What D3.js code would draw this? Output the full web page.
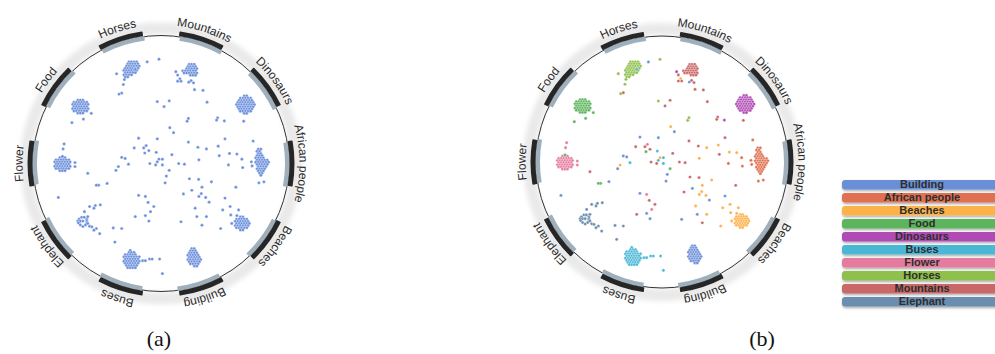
<!DOCTYPE html>
<html>
<head>
<meta charset="utf-8">
<script src="https://cdn.jsdelivr.net/npm/d3@7"></script>
<style>
  html, body { margin: 0; padding: 0; background: #fff; }
  svg { display: block; }
</style>
</head>
<body>
<svg id="chart" width="995" height="354"></svg>
<script>
// ---- categories, legend order and colours ----
const categories = ["Building", "African people", "Beaches", "Food", "Dinosaurs",
                    "Buses", "Flower", "Horses", "Mountains", "Elephant"];
const categoryColors = ["#6b8fd9", "#e07050", "#fdb14a", "#5cb55c", "#b04bb5",
                        "#4bb7d6", "#e57c9e", "#8ec04b", "#c96767", "#6a8db0"];
// order of the groups round the ring, clockwise from the top
const ringOrder = ["Mountains", "Dinosaurs", "African people", "Beaches", "Building",
                   "Buses", "Elephant", "Flower", "Food", "Horses"];
const codeToCategory = { Bd: "Building", Af: "African people", Be: "Beaches", Fo: "Food",
  Di: "Dinosaurs", Bu: "Buses", Fl: "Flower", Ho: "Horses", Mo: "Mountains", El: "Elephant" };

// ---- embedded image features (2-D projection, circle of radius 100) ----
// dense groups, one row of points per entry: [y, [x, x, ...]]
const horsesCluster = [
  [-79.5, [-25, -23, -21, -19]], [-77.8, [-26, -24, -22, -20, -18]],
  [-76.1, [-27, -25, -23, -21, -19, -17]], [-74.4, [-28, -26, -24, -22, -20, -18]],
  [-72.7, [-29, -27, -25, -23, -21, -19]], [-71.0, [-28, -26, -24, -22, -20]],
  [-69.3, [-29, -27, -25, -23]], [-67.6, [-28, -26]]];
const mountainsCluster = [
  [-77.5, [22, 24, 26]], [-75.8, [21, 23, 25, 27]], [-74.1, [20, 22, 24, 26, 28]],
  [-72.4, [17, 19, 21, 23, 25, 27]], [-70.7, [18, 20, 22, 24, 26, 28]], [-69.0, [23, 25, 27]]];
const dinosaursCluster = [
  [-52.8, [65, 67]], [-51.1, [62, 64, 66, 68, 70]], [-49.4, [61, 63, 65, 67, 69, 71]],
  [-47.7, [60, 62, 64, 66, 68, 70, 72]], [-46.0, [59, 61, 63, 65, 67, 69, 71, 73]],
  [-44.3, [60, 62, 64, 66, 68, 70, 72]], [-42.6, [61, 63, 65, 67, 69, 71]],
  [-40.9, [62, 64, 66, 68, 70]], [-39.2, [65, 67]]];
const foodCluster = [
  [-49.6, [-65, -63, -61]], [-47.9, [-68, -66, -64, -62, -60, -58]],
  [-46.2, [-69, -67, -65, -63, -61, -59, -57]], [-44.5, [-68, -66, -64, -62, -60, -58]],
  [-42.8, [-69, -67, -65, -63, -61, -59, -57]], [-41.1, [-68, -66, -64, -62, -60, -58]],
  [-39.4, [-65, -63, -61]]];
const flowerCluster = [
  [-4.6, [-79, -77, -75]], [-2.9, [-82, -80, -78, -76, -74, -72]],
  [-1.2, [-83, -81, -79, -77, -75, -73, -71]], [0.5, [-82, -80, -78, -76, -74, -72]],
  [2.2, [-83, -81, -79, -77, -75, -73, -71]], [3.9, [-82, -80, -78, -76, -74, -72]],
  [5.6, [-79, -77, -75]]];
const africanCluster = [
  [-11.2, [76, 78]], [-9.5, [75, 77]], [-7.8, [76, 78]], [-6.1, [75, 77, 79]],
  [-4.4, [74, 76, 78, 80]], [-2.7, [75, 77, 79, 81, 83]], [-1.0, [74, 76, 78, 80, 82, 84]],
  [0.7, [75, 77, 79, 81, 83]], [2.4, [76, 78, 80, 82]], [4.1, [75, 77, 79, 81]],
  [5.8, [76, 78, 80]], [7.5, [77, 79]], [9.2, [78]]];
const beachesCluster = [
  [41.7, [62, 64]], [43.4, [59, 61, 63, 65, 67]], [45.1, [58, 60, 62, 64, 66, 68]],
  [46.8, [59, 61, 63, 65, 67, 69]], [48.5, [58, 60, 62, 64, 66, 68]],
  [50.2, [59, 61, 63, 65, 67]], [51.9, [62, 64]]];
const buildingCluster = [
  [66.5, [24, 26]], [68.2, [23, 25, 27]], [69.9, [22, 24, 26, 28]], [71.6, [21, 23, 25, 27, 29]],
  [73.3, [22, 24, 26, 28, 30]], [75.0, [21, 23, 25, 27, 29, 31]], [76.7, [22, 24, 26, 28, 30]],
  [78.4, [23, 25, 27, 29]], [80.1, [26, 28]]];
const busesCluster = [
  [67.8, [-24]], [69.5, [-25, -23, -21]], [71.2, [-28, -26, -24, -22, -20]],
  [72.9, [-29, -27, -25, -23, -21, -19, -17]], [74.6, [-28, -26, -24, -22, -20, -18]],
  [76.3, [-29, -27, -25, -23, -21, -19, -17]], [78.0, [-28, -26, -24, -22, -20, -18]],
  [79.7, [-27, -25, -23, -21, -19]], [81.4, [-26, -24, -22, -20]]];
const elephantCluster = [
  [42.0, [-62, -60]], [43.5, [-64, -58]], [45.0, [-65, -63, -61, -58]],
  [46.5, [-64.5, -58]], [48.0, [-63, -59]], [49.2, [-61]]];

// loose points: [x, y, group code]
const scatterPoints = [
  [-34.7, -70.1, "Ho"], [-28.6, -65.6, "Ho"], [-29.4, -61.7, "Ho"], [-32.8, -54.2, "Ho"],
  [-30.7, -55.0, "Mo"], [-10.8, -79.4, "Bd"], [-1.6, -81.5, "Ho"], [-20.1, -73.6, "Bu"],
  [11.6, -71.7, "Di"], [13.0, -69.1, "Mo"], [14.8, -66.2, "Be"], [15.6, -64.3, "Mo"],
  [13.0, -64.3, "Mo"], [21.7, -63.5, "Bd"], [23.5, -64.8, "Mo"], [25.4, -63.0, "Mo"],
  [26.2, -57.7, "Mo"], [32.8, -57.2, "Mo"], [36.0, -47.9, "Mo"], [-2.9, -48.4, "Ho"],
  [2.4, -44.5, "Mo"], [6.4, -49.0, "Mo"], [21.4, -35.2, "Ho"], [20.4, -33.1, "Ho"],
  [6.9, -28.0, "Be"], [9.8, -24.1, "Bd"], [44.2, -35.7, "Mo"], [43.4, -33.9, "Mo"],
  [49.5, -33.3, "Di"], [64.6, -33.1, "Mo"], [-54.5, -39.2, "Fo"], [-60.6, -34.7, "Fo"],
  [-69.6, -32.0, "Fo"], [-17.5, -19.8, "Bd"], [-20.9, -12.2, "Mo"], [-13.5, -12.2, "Mo"],
  [-11.6, -14.0, "Fl"], [-2.9, -19.3, "Bd"], [-9.5, -10.1, "Mo"], [-12.7, -8.2, "Fo"],
  [-3.7, -8.7, "Bu"], [-1.6, -3.4, "Be"], [1.1, -3.4, "Bu"], [-2.9, -1.3, "Bu"],
  [1.1, 1.1, "Bu"], [-4.2, 1.1, "Mo"], [-8.7, 0.0, "Mo"], [8.5, -6.9, "Mo"],
  [6.4, 5.3, "Fo"], [4.2, 9.8, "Bd"], [3.2, 15.1, "Bd"], [13.8, 0.0, "Mo"],
  [18.3, 0.5, "Mo"], [21.4, -16.7, "Mo"], [28.8, -12.7, "Mo"], [35.5, -11.4, "Be"],
  [44.7, -13.5, "Be"], [50.0, -19.3, "Mo"], [45.5, -6.1, "Mo"], [53.5, -7.9, "Be"],
  [59.3, -7.4, "Be"], [63.2, -3.4, "Af"], [52.7, 1.1, "Af"], [63.8, 3.2, "Af"],
  [70.6, -1.3, "Af"], [71.2, 1.9, "Af"], [72.0, -17.5, "Af"], [29.6, -2.9, "Be"],
  [22.2, 11.9, "Mo"], [29.4, 12.4, "Mo"], [39.4, 14.3, "Be"], [32.0, 18.5, "Be"],
  [31.5, 23.5, "Be"], [24.1, 20.9, "Bd"], [17.5, 23.8, "Mo"], [29.6, 25.7, "Be"],
  [34.9, 26.5, "Be"], [37.6, 30.2, "Bd"], [26.7, 34.9, "Be"], [50.0, 27.0, "Bd"],
  [58.5, 18.5, "Mo"], [48.2, 36.3, "Be"], [54.0, 33.6, "Be"], [60.6, 36.3, "Be"],
  [59.3, 40.7, "Be"], [55.3, 46.8, "Be"], [46.6, 50.8, "Be"], [54.5, 40.2, "Be"],
  [28.0, 41.5, "Bd"], [35.5, 41.5, "Be"], [32.0, 48.2, "Mo"], [15.6, 45.5, "Bd"],
  [-30.7, -4.8, "Bd"], [-28.0, -4.0, "Bd"], [-25.4, 0.5, "Bu"], [-33.3, 2.4, "Be"],
  [-35.2, 5.3, "Bd"], [-42.1, 15.6, "Bd"], [-48.7, 16.9, "Fo"], [-50.5, 16.9, "Fo"],
  [-57.2, 7.7, "Mo"], [-67.2, -0.8, "Fl"], [-67.2, 2.4, "Fl"], [-75.7, -15.3, "Fl"],
  [-76.5, -11.4, "Fl"], [-77.0, -5.6, "Fo"], [-80.2, 26.5, "Bd"], [-17.5, 24.9, "Bd"],
  [-12.2, 25.7, "Fl"], [-10.1, 30.4, "Mo"], [-5.6, 33.6, "Mo"], [-8.2, 37.6, "Fl"],
  [-12.2, 40.7, "Bd"], [-9.5, 45.0, "Bd"], [-20.1, 41.5, "Mo"],
  [-59.8, 37.6, "El"], [-55.8, 33.6, "El"], [-51.3, 32.8, "El"], [-47.4, 32.3, "El"],
  [-52.4, 34.9, "El"], [-57.2, 41.5, "El"], [-57.2, 46.8, "El"], [-55.8, 49.0, "El"],
  [-54.0, 49.5, "El"], [-50.5, 50.8, "El"], [-47.9, 54.8, "El"], [-52.4, 52.1, "El"],
  [-37.3, 50.3, "El"], [-30.7, 50.8, "El"], [-36.0, 61.4, "El"],
  [-14.3, 75.9, "Bu"], [-12.2, 75.9, "Bu"], [-9.0, 74.6, "Bu"], [-6.9, 74.6, "Bu"],
  [-1.1, 74.6, "Bu"], [1.1, 86.0, "Bu"], [76.5, 15.1, "Af"], [80.4, 14.3, "Af"]
];

const clusterTable = [
  ["Horses", horsesCluster], ["Mountains", mountainsCluster], ["Dinosaurs", dinosaursCluster],
  ["Food", foodCluster], ["Flower", flowerCluster], ["African people", africanCluster],
  ["Beaches", beachesCluster], ["Building", buildingCluster], ["Buses", busesCluster],
  ["Elephant", elephantCluster]];

const captions = ["(a)", "(b)"];

// ---- flatten into one list of points ----
const points = [];
clusterTable.forEach(([cat, rows]) => {
  rows.forEach(([yv, xs]) => xs.forEach(xv => points.push({ x: xv, y: yv, cat })));
});
scatterPoints.forEach(([xv, yv, code]) => points.push({ x: xv, y: yv, cat: codeToCategory[code] }));

const color = d3.scaleOrdinal().domain(categories).range(categoryColors);
const singleColor = "#6b8fdc";

const svg = d3.select("#chart");
const defs = svg.append("defs");
defs.append("filter").attr("id", "halo").attr("x", "-20%").attr("y", "-20%")
  .attr("width", "140%").attr("height", "140%")
  .append("feGaussianBlur").attr("stdDeviation", 2.5);
const sh = defs.append("filter").attr("id", "barShadow").attr("x", "-5%").attr("y", "-40%")
  .attr("width", "110%").attr("height", "200%");
sh.append("feDropShadow").attr("dx", 0.5).attr("dy", 1.5).attr("stdDeviation", 1)
  .attr("flood-color", "#000").attr("flood-opacity", 0.35);

const deg = Math.PI / 180;

function drawPanel(id, cx, cy, R, fillFor) {
  const g = svg.append("g").attr("class", "panel-" + id);
  const x = d3.scaleLinear().domain([-100, 100]).range([cx - R, cx + R]);
  const y = d3.scaleLinear().domain([-100, 100]).range([cy - R, cy + R]);
  const angle = d3.scalePoint().domain(ringOrder).range([18, 342]);

  // soft ring shadow
  g.append("circle").attr("cx", cx).attr("cy", cy).attr("r", R + 7)
    .attr("fill", "none").attr("stroke", "#e9e9e9").attr("stroke-width", 12)
    .attr("filter", "url(#halo)");

  // boundary circle
  g.append("circle").attr("cx", cx).attr("cy", cy).attr("r", R)
    .attr("fill", "none").attr("stroke", "#333").attr("stroke-width", 1);

  const ring = g.append("g").attr("transform", `translate(${cx},${cy})`);
  const innerArc = d3.arc().innerRadius(R - 4).outerRadius(R + 0.5);
  const outerArc = d3.arc().innerRadius(R + 0.5).outerRadius(R + 5.5).cornerRadius(0.8);
  ring.selectAll("path.inner").data(ringOrder).join("path").attr("class", "inner")
    .attr("d", c => innerArc({ startAngle: (angle(c) - 9.5) * deg, endAngle: (angle(c) + 10.5) * deg }))
    .attr("fill", "#9fb0bc");
  ring.selectAll("path.outer").data(ringOrder).join("path").attr("class", "outer")
    .attr("d", c => outerArc({ startAngle: (angle(c) - 10) * deg, endAngle: (angle(c) + 10) * deg }))
    .attr("fill", "#262626");

  // labels running clockwise along the ring
  const rl = R + 10.5;
  const pathFor = c => {
    const a0 = (angle(c) - 90) * deg, a1 = (angle(c) + 90) * deg;
    return `M${cx + rl * Math.sin(a0)},${cy - rl * Math.cos(a0)} A${rl},${rl} 0 0 1 ${cx + rl * Math.sin(a1)},${cy - rl * Math.cos(a1)}`;
  };
  ringOrder.forEach((c, i) => {
    defs.append("path").attr("id", `lp-${id}-${i}`).attr("d", pathFor(c));
  });
  g.selectAll("text.grp").data(ringOrder).join("text").attr("class", "grp")
    .attr("font-family", "'Liberation Sans', Arial, Helvetica, sans-serif")
    .attr("font-size", 12).attr("fill", "#2a2a2a")
    .append("textPath").attr("href", (c, i) => `#lp-${id}-${i}`)
    .attr("startOffset", "50%").attr("text-anchor", "middle").text(c => c);

  // points
  g.append("g").selectAll("circle").data(points).join("circle")
    .attr("cx", d => x(d.x)).attr("cy", d => y(d.y)).attr("r", 1.6)
    .attr("fill", fillFor).attr("stroke", "#fff").attr("stroke-width", 0.35);
}

drawPanel("a", 161, 163.5, 128, () => singleColor);
drawPanel("b", 662, 162, 126, d => color(d.cat));

// captions
svg.selectAll("text.cap").data(captions).join("text").attr("class", "cap")
  .attr("x", (d, i) => [159, 762][i]).attr("y", 346)
  .attr("text-anchor", "middle")
  .attr("font-family", "'Liberation Serif', 'Times New Roman', serif")
  .attr("font-size", 22).attr("fill", "#111").text(d => d);

// legend
const legend = svg.append("g").attr("transform", "translate(842,180)");
const rowStep = 13;
const lg = legend.selectAll("g").data(categories).join("g")
  .attr("transform", (d, i) => `translate(0,${i * rowStep})`);
lg.append("rect").attr("width", 160).attr("height", 9.5).attr("rx", 3)
  .attr("fill", d => color(d)).attr("filter", "url(#barShadow)");
lg.append("text").attr("x", 80).attr("y", 8.3).attr("text-anchor", "middle")
  .attr("font-family", "'Liberation Sans', Arial, Helvetica, sans-serif")
  .attr("font-weight", "bold").attr("font-size", 11).attr("fill", "#2e2e2e")
  .text(d => d);
</script>
</body>
</html>
